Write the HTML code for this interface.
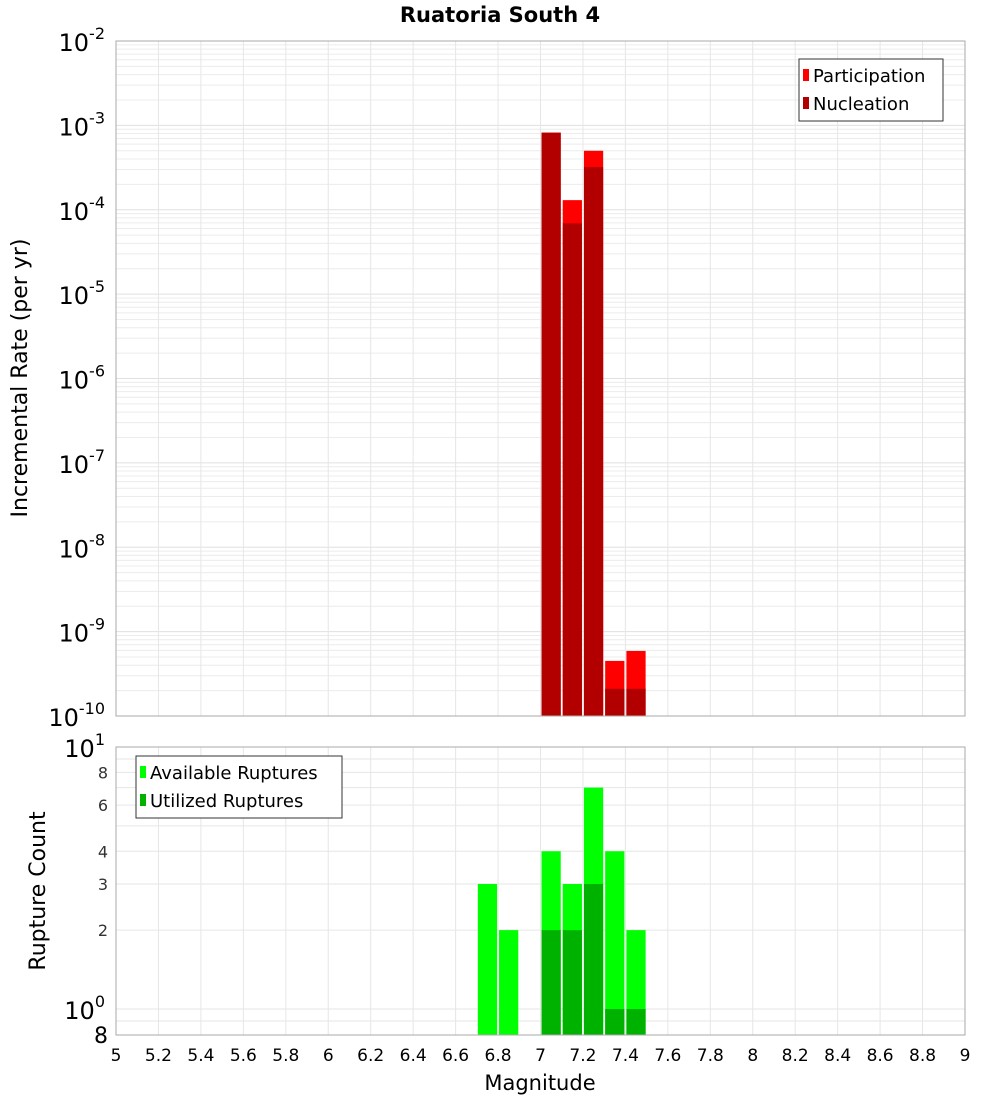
<!DOCTYPE html>
<html><head><meta charset="utf-8"><style>
body{margin:0;background:#fff;font-family:"DejaVu Sans","Liberation Sans",sans-serif}
</style></head><body>
<svg id="c" width="1000" height="1100" xmlns="http://www.w3.org/2000/svg" font-family="DejaVu Sans, Liberation Sans, sans-serif"></svg>
<script>
const mags=[6.75,6.85,7.05,7.15,7.25,7.35,7.45];
const partRates=[null,null,8.2e-4,1.3e-4,5.0e-4,4.5e-10,5.9e-10];
const nuclRates=[null,null,8.2e-4,6.9e-5,3.2e-4,2.1e-10,2.1e-10];
const available=[3,2,4,3,7,4,2];
const utilized=[0,0,2,2,3,1,1];
const xTicks=[5,5.2,5.4,5.6,5.8,6,6.2,6.4,6.6,6.8,7,7.2,7.4,7.6,7.8,8,8.2,8.4,8.6,8.8,9];
const topDecades=[-2,-3,-4,-5,-6,-7,-8,-9,-10];
const botTicks=[2,3,4,6,8];

const svg=document.getElementById('c');const NS='http://www.w3.org/2000/svg';
function el(t,a,txt){const e=document.createElementNS(NS,t);for(const k in a)e.setAttribute(k,a[k]);if(txt!==undefined)e.textContent=txt;svg.appendChild(e);return e;}
const X0=116,X1=965;
const x=m=>X0+(m-5)/4*(X1-X0);
const T0=41,T1=716;
const yT=v=>T0+(-2-Math.log10(v))/8*(T1-T0);
const B0=747,B1=1035,B1v=1009;
const yB=v=>B1v-Math.log10(v)*(B1v-B0);

// title
let t=el('text',{x:500,y:22,'text-anchor':'middle','font-size':21,'font-weight':'bold'},'Ruatoria South 4');


// top grid
for(let d=-10;d<-2;d++){for(let k=1;k<10;k++){const v=k*Math.pow(10,d);const yy=yT(v);
 const g=el('line',{x1:X0,x2:X1,y1:yy,y2:yy,stroke:k==1?'#e0e0e0':'#ececec','stroke-width':1});
 }}
for(const m of xTicks){for(const [a,b] of [[T0,T1],[B0,B1]]){const g=el('line',{x1:x(m),x2:x(m),y1:a,y2:b,stroke:'#e6e6e6'});
 }}
// bottom grid
for(let k=1;k<=10;k++){const yy=yB(k);const g=el('line',{x1:X0,x2:X1,y1:yy,y2:yy,stroke:'#e6e6e6'});
 }
{const g=el('line',{x1:X0,x2:X1,y1:yB(0.9),y2:yB(0.9),stroke:'#e6e6e6'});}

// top bars
mags.forEach((m,i)=>{
 const xl=x(m-0.05)+1,w=x(m+0.05)-x(m-0.05)-2;
 if(partRates[i]){const r=el('rect',{x:xl,y:yT(partRates[i]),width:w,height:T1-yT(partRates[i]),fill:'#ff0000'});
  }
 if(nuclRates[i]){const r=el('rect',{x:xl,y:yT(nuclRates[i]),width:w,height:T1-yT(nuclRates[i]),fill:'#b20000'});
  }
 if(available[i]){const r=el('rect',{x:xl,y:yB(available[i]),width:w,height:B1-yB(available[i]),fill:'#00ff00'});
  }
 if(utilized[i]){const r=el('rect',{x:xl,y:yB(utilized[i]),width:w,height:B1-yB(utilized[i]),fill:'#00b200'});
  }
});

// frames
let f=el('rect',{x:X0,y:T0,width:X1-X0,height:T1-T0,fill:'none',stroke:'#aaa'});
f=el('rect',{x:X0,y:B0,width:X1-X0,height:B1-B0,fill:'none',stroke:'#aaa'});

// top y labels
topDecades.forEach(d=>{const yy=yT(Math.pow(10,d));
 const tx=el('text',{x:105,y:yy+10,'text-anchor':'end','font-size':24});
 
 tx.innerHTML='10<tspan dy="-12" font-size="16">'+d+'</tspan>';
});
// bottom y labels
[[10,'1'],[1,'0']].forEach(([v,e])=>{const tx=el('text',{x:105,y:yB(v)+10,'text-anchor':'end','font-size':24});
 
 tx.innerHTML='10<tspan dy="-12" font-size="16">'+e+'</tspan>';});
botTicks.forEach(v=>{const tx=el('text',{x:108,y:yB(v)+6,'text-anchor':'end','font-size':16,fill:'#333'},String(v));
 });
t=el('text',{x:108,y:1043,'text-anchor':'end','font-size':22},'8');

// x labels
xTicks.forEach(m=>{const tx=el('text',{x:x(m),y:1061,'text-anchor':'middle','font-size':17},String(m));
 });
t=el('text',{x:540,y:1090,'text-anchor':'middle','font-size':21},'Magnitude');
t=el('text',{x:0,y:0,'text-anchor':'middle','font-size':22,transform:'translate(27,378) rotate(-90)'},'Incremental Rate (per yr)');
t=el('text',{x:0,y:0,'text-anchor':'middle','font-size':22,transform:'translate(45,891) rotate(-90)'},'Rupture Count');

// legends
function legend(x0,y0,w,items,name){const r=el('rect',{x:x0,y:y0,width:w,height:items.length*28+6,fill:'#fff',stroke:'#333'});
 
 items.forEach(([lab,col],i)=>{const s=el('rect',{x:x0+4,y:y0+10+i*28,width:6,height:12,fill:col});
  
  const tx=el('text',{x:x0+14,y:y0+23+i*28,'font-size':18},lab);
  });}
legend(799,59,144,[['Participation','#ff0000'],['Nucleation','#b20000']],'top-legend');
legend(136,756,206,[['Available Ruptures','#00ff00'],['Utilized Ruptures','#00b200']],'bottom-legend');
</script>
</body></html>
